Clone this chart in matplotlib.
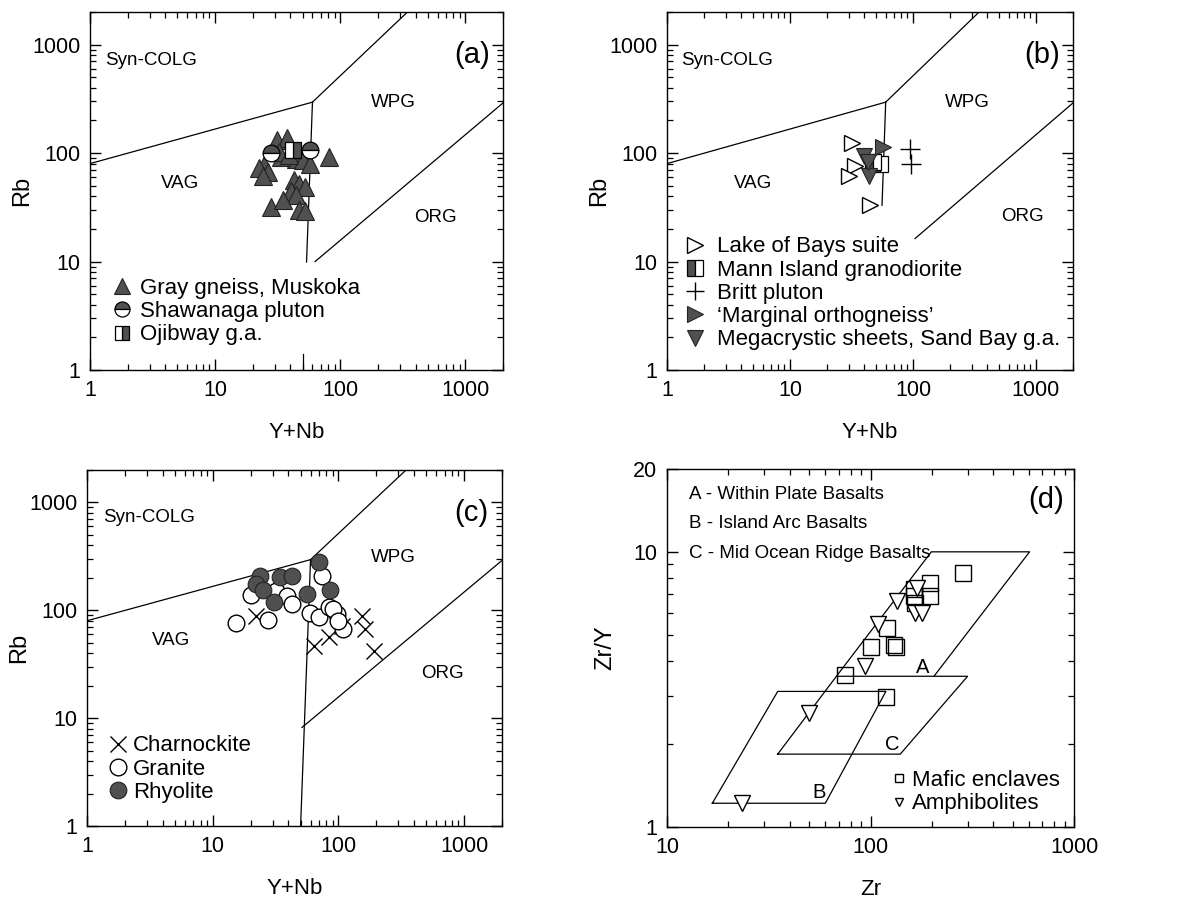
import numpy as np
import matplotlib.pyplot as plt
from matplotlib.ticker import LogLocator, NullFormatter

plt.rcParams.update({
    "font.family": ["Liberation Sans", "DejaVu Sans"],
    "font.size": 15.5,
    "axes.linewidth": 1.0,
})

W, H = 1177, 898
DARK = "#505050"

# ---------------- data ----------------
# (a) Rb vs Y+Nb
gray_gneiss_x = [31.3, 37.4, 24.8, 22.6, 26.4, 24, 44.5, 50, 57, 43, 47, 52, 40.5,
                 28, 44.5, 47, 52, 34.8, 82, 33.7, 32.3, 38.6]
gray_gneiss_y = [133, 138, 77, 73, 67, 62, 89, 86, 80, 56, 52, 49, 45,
                 32, 41, 30, 29, 37, 92, 92, 102, 97]
shawanaga_x = [27.9, 57.5]
shawanaga_y = [100, 106]
ojibway_x = [41.8]
ojibway_y = [106]

# (b)
lake_bays_x = [32, 34, 30, 45]
lake_bays_y = [125, 76, 62, 33]
mann_x = [54, 47]
mann_y = [80, 82]
britt_x = [95, 97]
britt_y = [110, 80]
marginal_x = [57]
marginal_y = [114]
megacryst_x = [40.2, 44.2, 43.4]
megacryst_y = [95, 62, 83]

# (c)
charnockite_x = [22, 64, 84, 107, 153, 162, 191]
charnockite_y = [89, 47, 56, 72, 89, 67, 42]
granite_x = [15.4, 20, 27.5, 32, 39, 43, 74, 59, 70, 84, 97.5, 109, 90, 100]
granite_y = [77, 140, 81, 152, 137, 115, 210, 94, 87, 108, 92, 67, 103, 80]
rhyolite_x = [70, 23.6, 22, 25, 34, 43, 31, 56, 86]
rhyolite_y = [279, 210, 176, 155, 205, 210, 119, 142, 155]

# (d) Zr/Y vs Zr
enclave_x = [285, 197, 164, 195, 166, 164, 120, 101, 130, 133, 75, 119]
enclave_y = [8.4, 7.7, 7.3, 6.9, 6.5, 6.9, 5.3, 4.5, 4.6, 4.5, 3.58, 2.98]
amphib_x = [135, 170, 166, 180, 109, 94, 50, 23.4]
amphib_y = [6.6, 7.4, 6.0, 6.0, 5.45, 3.84, 2.59, 1.22]

# Pearce et al. field boundaries (Y+Nb, Rb)
colg_vag = ([1, 60], [80, 295])
colg_wpg = ([60, 345], [295, 2000])
vag_wpg = {"a": [([60, 53.8], [295, 9.9]), ([50, 50], [1, 1.4])],
           "b": [([60, 56], [295, 33])],
           "c": [([60, 50], [295, 1])]}
org_start = {"a": (63, 10), "b": (104, 16.3), "c": (51.3, 8.2)}
org_end = (2000, 290)

# Pearce & Norry fields (Zr, Zr/Y)
field_A = ([68, 199, 605, 205], [3.53, 10, 10, 3.53])
field_C = ([35, 68, 300, 140, 35], [1.84, 3.53, 3.53, 1.84, 1.84])
field_B = ([16.7, 35, 119, 60, 16.7], [1.22, 3.11, 3.11, 1.22, 1.22])

# ---------------- figure ----------------
fig = plt.figure(figsize=(W / 100, H / 100), dpi=100)


def make_axes(left, right, top, bottom):
    return fig.add_axes([left / W, 1 - bottom / H, (right - left) / W, (bottom - top) / H])


def style_log(ax, xlim, ylim, xt, yt):
    ax.set_xscale("log")
    ax.set_yscale("log")
    ax.set_xlim(*xlim)
    ax.set_ylim(*ylim)
    ax.set_xticks(xt)
    ax.set_xticklabels([str(v) for v in xt])
    ax.set_yticks(yt)
    ax.set_yticklabels([str(v) for v in yt])
    for axis in (ax.xaxis, ax.yaxis):
        axis.set_minor_locator(LogLocator(base=10, subs=np.arange(2, 10), numticks=20))
        axis.set_minor_formatter(NullFormatter())
    ax.tick_params(which="both", direction="in", top=True, right=True, labelsize=15.5)
    ax.tick_params(which="major", length=8, width=1, pad=7)
    ax.tick_params(which="minor", length=4.5, width=0.9)


def rb_panel(ax, key, tag, labels):
    style_log(ax, (1, 2000), (1, 2000), [1, 10, 100, 1000], [1, 10, 100, 1000])
    lk = dict(color="black", lw=0.9)
    ax.plot(*colg_vag, **lk)
    ax.plot(*colg_wpg, **lk)
    for seg in vag_wpg[key]:
        ax.plot(*seg, **lk)
    sx, sy = org_start[key]
    ax.plot([sx, org_end[0]], [sy, org_end[1]], **lk)
    for txt, (x, y, ha) in labels.items():
        ax.text(x, y, txt, fontsize=13.5, ha=ha, va="center")
    ax.text(0.968, 0.88, tag, transform=ax.transAxes, fontsize=21, ha="right", va="center")
    ax.set_xlabel("Y+Nb", fontsize=16, labelpad=15)
    ax.set_ylabel("Rb", fontsize=17, labelpad=-1)


# (a)
ax = make_axes(90, 503, 12, 370)
rb_panel(ax, "a", "(a)", {"Syn-COLG": (1.32, 720, "left"), "VAG": (5.25, 52, "center"),
                          "WPG": (267, 295, "center"), "ORG": (575, 25.4, "center")})
h1, = ax.plot(gray_gneiss_x, gray_gneiss_y, "^", ms=13, mfc=DARK, mec="#222222", mew=0.8,
              ls="none", label="Gray gneiss, Muskoka")
h2, = ax.plot(shawanaga_x, shawanaga_y, "o", ms=12, fillstyle="top", mfc=DARK, mfcalt="white",
              mec="black", mew=0.9, ls="none", label="Shawanaga pluton")
h3, = ax.plot(ojibway_x, ojibway_y, "s", ms=11, fillstyle="right", mfc=DARK, mfcalt="white",
              mec="black", mew=0.9, ls="none", label="Ojibway g.a.")
ax.legend(handles=[h1, h2, h3], loc="lower left", bbox_to_anchor=(0.051, 0.069), frameon=False,
          fontsize=16, handlelength=1.0, handletextpad=0.32, labelspacing=0.1,
          borderpad=0, borderaxespad=0, markerscale=0.9)

# (b)
ax = make_axes(667, 1073, 12, 370)
rb_panel(ax, "b", "(b)", {"Syn-COLG": (1.3, 720, "left"), "VAG": (5.0, 52, "center"),
                          "WPG": (277, 295, "center"), "ORG": (778, 26, "center")})
h1, = ax.plot(lake_bays_x, lake_bays_y, ">", ms=12, mfc="white", mec="black", mew=1,
              ls="none", label="Lake of Bays suite")
h2, = ax.plot(mann_x, mann_y, "s", ms=12, fillstyle="left", mfc=DARK, mfcalt="white",
              mec="black", mew=0.9, ls="none", label="Mann Island granodiorite")
h3, = ax.plot(britt_x, britt_y, "+", ms=14, mec="black", mew=1, ls="none", label="Britt pluton")
h4, = ax.plot(marginal_x, marginal_y, ">", ms=12, mfc=DARK, mec="#222222", mew=0.8,
              ls="none", label="\u2018Marginal orthogneiss\u2019")
h5, = ax.plot(megacryst_x, megacryst_y, "v", ms=12, mfc=DARK, mec="#222222", mew=0.8,
              ls="none", label="Megacrystic sheets, Sand Bay g.a.")
ax.legend(handles=[h1, h2, h3, h4, h5], loc="lower left", bbox_to_anchor=(0.041, 0.055),
          frameon=False, fontsize=16, handlelength=1.0, handletextpad=0.5, labelspacing=0.1,
          borderpad=0, borderaxespad=0, markerscale=0.95)

# (c)
ax = make_axes(87, 502, 470, 826)
rb_panel(ax, "c", "(c)", {"Syn-COLG": (1.34, 720, "left"), "VAG": (4.7, 53, "center"),
                          "WPG": (273, 311, "center"), "ORG": (671, 26, "center")})
h1, = ax.plot(charnockite_x, charnockite_y, "x", ms=12, mec="black", mew=1, ls="none",
              label="Charnockite")
h2, = ax.plot(granite_x, granite_y, "o", ms=12, mfc="white", mec="black", mew=1, ls="none",
              label="Granite")
h3, = ax.plot(rhyolite_x, rhyolite_y, "o", ms=12, mfc=DARK, mec="#222222", mew=0.8, ls="none",
              label="Rhyolite")
ax.legend(handles=[h1, h2, h3], loc="lower left", bbox_to_anchor=(0.048, 0.065), frameon=False,
          fontsize=16, handlelength=1.0, handletextpad=0.18, labelspacing=0.1,
          borderpad=0, borderaxespad=0)

# (d)
ax = make_axes(667, 1074, 469, 827)
style_log(ax, (10, 1000), (1, 20), [10, 100, 1000], [1, 10, 20])
lk = dict(color="black", lw=0.9)
ax.plot(*field_A, **lk)
ax.plot(*field_C, **lk)
ax.plot(*field_B, **lk)
ax.text(180, 3.8, "A", fontsize=14.5, ha="center", va="center")
ax.text(128, 1.99, "C", fontsize=14.5, ha="center", va="center")
ax.text(56, 1.33, "B", fontsize=14.5, ha="center", va="center")
for i, txt in enumerate(["A - Within Plate Basalts", "B - Island Arc Basalts",
                         "C - Mid Ocean Ridge Basalts"]):
    ax.text(0.054, [0.928, 0.849, 0.765][i], txt, transform=ax.transAxes, fontsize=13.5,
            ha="left", va="center")
ax.text(0.975, 0.914, "(d)", transform=ax.transAxes, fontsize=21, ha="right", va="center")
h1, = ax.plot(enclave_x, enclave_y, "s", ms=12, mfc="none", mec="black", mew=1, ls="none",
              label="Mafic enclaves")
h2, = ax.plot(amphib_x, amphib_y, "v", ms=11, mfc="white", mec="black", mew=1, ls="none",
              label="Amphibolites")
ax.legend(handles=[h1, h2], loc="lower left", bbox_to_anchor=(0.542, 0.035), frameon=False,
          fontsize=16, handlelength=1.0, handletextpad=0.1, labelspacing=0.1,
          borderpad=0, borderaxespad=0, markerscale=0.5)
ax.set_xlabel("Zr", fontsize=16, labelpad=15)
ax.set_ylabel("Zr/Y", fontsize=17, labelpad=12)

fig.savefig("out.png", dpi=100)
